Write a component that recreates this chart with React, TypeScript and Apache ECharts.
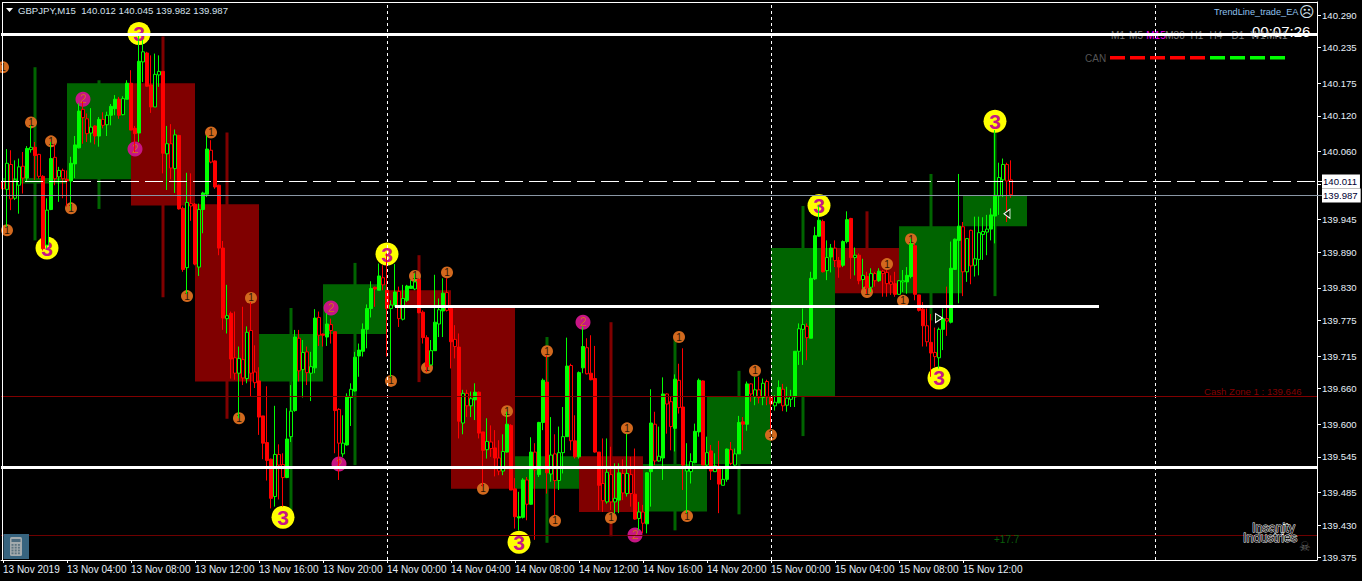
import React, { useEffect, useRef } from "react";
import * as echarts from "echarts";

const FONT = '"Liberation Sans", Arial, sans-serif';

// M15 candles: [open, close, low, high]
const ohlc: number[][] = [
[140.009,139.997,139.955,140.208],[139.996,140.040,139.933,140.064],[140.038,139.980,139.961,140.062],[139.981,140.012,139.978,140.045],
[140.003,140.034,139.955,140.048],[140.035,140.015,139.989,140.059],[140.015,140.065,140.009,140.069],[140.063,140.067,140.058,140.104],
[140.067,140.053,140.012,140.076],[140.055,140.018,140.014,140.056],[140.018,139.896,139.893,140.020],[139.902,139.961,139.896,139.981],
[139.962,140.048,139.961,140.076],[140.050,140.014,140.003,140.073],[140.017,140.028,139.975,140.034],[140.028,140.014,139.981,140.031],
[140.013,140.010,139.967,140.028],[140.010,140.040,139.961,140.051],[140.039,140.071,140.015,140.086],[140.066,140.128,140.065,140.141],
[140.131,140.117,140.073,140.144],[140.115,140.090,140.076,140.124],[140.091,140.101,140.075,140.133],[140.103,140.086,140.072,140.104],
[140.086,140.114,140.068,140.118],[140.114,140.104,140.099,140.126],[140.105,140.121,140.086,140.127],[140.121,140.136,140.104,140.140],
[140.132,140.148,140.121,140.155],[140.148,140.121,140.115,140.152],[140.122,140.149,140.121,140.153],[140.148,140.175,140.148,140.180],
[140.175,140.096,140.096,140.197],[140.099,140.090,140.059,140.103],[140.091,140.212,140.076,140.256],[140.211,140.228,140.177,140.248],
[140.226,140.170,140.169,140.228],[140.172,140.135,140.125,140.222],[140.135,140.190,140.135,140.225],[140.189,140.195,140.169,140.222],
[140.195,140.057,140.023,140.195],[140.056,140.073,139.995,140.103],[140.073,140.032,140.013,140.106],[140.031,140.088,139.990,140.097],
[140.087,139.963,139.962,140.088],[139.964,139.861,139.857,139.967],[139.864,139.974,139.820,140.024],[139.972,139.968,139.943,140.023],
[139.971,139.870,139.868,139.973],[139.865,139.962,139.850,139.972],[139.962,139.990,139.922,139.992],[139.988,140.064,139.983,140.087],
[140.062,140.042,140.040,140.079],[140.044,140.000,139.997,140.045],[140.003,139.897,139.885,140.004],[139.897,139.779,139.759,139.909],
[139.778,139.783,139.753,139.835],[139.787,139.710,139.677,139.790],[139.712,139.686,139.675,139.790],[139.686,139.711,139.610,139.731],
[139.709,139.678,139.666,139.798],[139.677,139.755,139.669,139.765],[139.758,139.686,139.646,139.806],[139.688,139.670,139.661,139.733],
[139.673,139.612,139.582,139.696],[139.614,139.568,139.541,139.614],[139.569,139.539,139.505,139.664],[139.541,139.475,139.458,139.542],
[139.478,139.549,139.461,139.631],[139.549,139.531,139.473,139.566],[139.532,139.510,139.461,139.551],[139.510,139.575,139.509,139.627],
[139.579,139.622,139.570,139.666],[139.623,139.747,139.621,139.759],[139.745,139.690,139.672,139.759],[139.692,139.721,139.645,139.742],
[139.722,139.687,139.666,139.731],[139.686,139.697,139.639,139.722],[139.695,139.779,139.686,139.794],[139.780,139.750,139.732,139.790],
[139.752,139.750,139.731,139.753],[139.747,139.769,139.732,139.787],[139.768,139.758,139.736,139.778],[139.756,139.623,139.551,139.756],
[139.625,139.568,139.506,139.627],[139.550,139.568,139.545,139.615],[139.565,139.647,139.564,139.652],[139.645,139.659,139.597,139.669],
[139.656,139.713,139.655,139.722],[139.715,139.725,139.680,139.736],[139.723,139.760,139.714,139.770],[139.760,139.795,139.728,139.802],
[139.795,139.829,139.780,139.841],[139.831,139.828,139.798,139.832],[139.826,139.850,139.826,139.871],[139.847,139.835,139.826,139.868],
[139.826,139.795,139.714,139.888],[139.795,139.801,139.680,139.809],[139.801,139.823,139.798,139.870],[139.824,139.778,139.764,139.832],
[139.777,139.812,139.775,139.835],[139.809,139.833,139.806,139.835],[139.829,139.833,139.829,139.843],[139.828,139.840,139.826,139.854],
[139.844,139.788,139.787,139.846],[139.789,139.746,139.736,139.792],[139.746,139.697,139.688,139.750],[139.700,139.724,139.700,139.742],
[139.724,139.772,139.724,139.852],[139.769,139.793,139.747,139.812],[139.791,139.821,139.747,139.846],[139.822,139.792,139.790,139.846],
[139.795,139.739,139.694,139.797],[139.743,139.731,139.711,139.767],[139.730,139.605,139.576,139.753],[139.602,139.652,139.583,139.658],
[139.652,139.631,139.612,139.658],[139.631,139.643,139.612,139.655],[139.641,139.654,139.607,139.669],[139.654,139.585,139.576,139.655],
[139.587,139.556,139.495,139.587],[139.557,139.571,139.542,139.610],[139.570,139.559,139.545,139.598],[139.560,139.543,139.512,139.590],
[139.543,139.521,139.514,139.573],[139.521,139.554,139.514,139.583],[139.553,139.600,139.552,139.621],[139.598,139.489,139.489,139.600],
[139.491,139.444,139.424,139.509],[139.442,139.444,139.421,139.486],[139.443,139.506,139.441,139.509],[139.506,139.465,139.438,139.511],
[139.465,139.553,139.464,139.578],[139.553,139.523,139.405,139.568],[139.515,139.603,139.511,139.604],[139.603,139.674,139.590,139.677],
[139.671,139.518,139.483,139.716],[139.516,139.548,139.503,139.612],[139.550,139.505,139.447,139.583],[139.505,139.552,139.489,139.596],
[139.552,139.579,139.517,139.629],[139.579,139.698,139.579,139.746],[139.699,139.572,139.556,139.702],[139.572,139.545,139.542,139.615],
[139.545,139.687,139.542,139.689],[139.695,139.731,139.686,139.764],[139.729,139.685,139.684,139.745],[139.686,139.675,139.674,139.750],
[139.677,139.553,139.552,139.732],[139.553,139.497,139.455,139.553],[139.500,139.471,139.452,139.576],[139.469,139.519,139.466,139.576],
[139.515,139.469,139.455,139.562],[139.469,139.475,139.450,139.534],[139.472,139.518,139.450,139.534],[139.517,139.484,139.472,139.541],
[139.483,139.517,139.478,139.584],[139.515,139.483,139.461,139.545],[139.482,139.440,139.439,139.559],[139.441,139.452,139.421,139.469],
[139.452,139.433,139.416,139.464],[139.432,139.518,139.416,139.519],[139.520,139.602,139.461,139.659],[139.600,139.538,139.531,139.621],
[139.538,139.546,139.537,139.596],[139.543,139.651,139.506,139.679],[139.651,139.634,139.584,139.652],[139.638,139.596,139.556,139.646],
[139.593,139.676,139.554,139.684],[139.674,139.628,139.618,139.702],[139.629,139.531,139.489,139.728],[139.521,139.529,139.450,139.568],
[139.520,139.537,139.500,139.551],[139.535,139.588,139.534,139.601],[139.587,139.674,139.579,139.677],[139.673,139.531,139.531,139.674],
[139.531,139.552,139.529,139.579],[139.555,139.521,139.506,139.565],[139.520,139.530,139.520,139.551],[139.529,139.499,139.450,139.572],
[139.497,139.507,139.497,139.528],[139.507,139.558,139.503,139.559],[139.557,139.534,139.531,139.570],[139.531,139.550,139.529,139.559],
[139.550,139.603,139.550,139.614],[139.604,139.600,139.556,139.612],[139.600,139.668,139.589,139.672],[139.668,139.651,139.638,139.669],
[139.646,139.658,139.632,139.680],[139.658,139.645,139.635,139.680],[139.645,139.669,139.632,139.677],[139.672,139.646,139.632,139.675],
[139.647,139.634,139.591,139.647],[139.631,139.637,139.623,139.649],[139.636,139.662,139.635,139.674],[139.659,139.631,139.622,139.668],
[139.632,139.644,139.621,139.663],[139.642,139.647,139.629,139.658],[139.646,139.723,139.629,139.723],[139.723,139.761,139.700,139.770],
[139.760,139.768,139.700,139.795],[139.765,139.746,139.708,139.770],[139.745,139.846,139.745,139.857],[139.845,139.918,139.843,139.933],
[139.917,139.944,139.916,139.969],[139.942,139.857,139.856,139.945],[139.859,139.881,139.843,139.910],[139.882,139.897,139.856,139.904],
[139.897,139.876,139.865,139.910],[139.876,139.865,139.847,139.882],[139.868,139.908,139.865,139.910],[139.908,139.945,139.905,139.959],
[139.947,139.881,139.845,139.948],[139.881,139.885,139.851,139.898],[139.885,139.842,139.836,139.888],[139.844,139.851,139.829,139.879],
[139.849,139.830,139.820,139.857],[139.831,139.854,139.823,139.863],[139.854,139.842,139.832,139.857],[139.842,139.858,139.840,139.863],
[139.858,139.854,139.815,139.860],[139.856,139.837,139.815,139.860],[139.840,139.836,139.818,139.851],[139.837,139.819,139.815,139.857],
[139.819,139.842,139.818,139.843],[139.840,139.842,139.823,139.860],[139.840,139.851,139.820,139.865],[139.849,139.904,139.846,139.913],
[139.901,139.819,139.809,139.905],[139.818,139.792,139.790,139.818],[139.794,139.766,139.731,139.806],[139.766,139.739,139.731,139.795],
[139.738,139.720,139.680,139.786],[139.721,139.714,139.697,139.763],[139.712,139.760,139.694,139.763],[139.760,139.778,139.725,139.795],
[139.778,139.774,139.749,139.832],[139.772,139.863,139.770,139.908],[139.861,139.912,139.860,139.913],[139.910,139.934,139.804,140.022],
[139.933,139.857,139.816,139.941],[139.857,139.913,139.840,139.913],[139.927,139.867,139.836,139.928],[139.868,139.879,139.849,139.950],
[139.878,139.923,139.851,139.950],[139.920,139.925,139.877,139.949],[139.924,139.929,139.885,139.953],[139.929,139.953,139.910,139.964],
[139.951,139.986,139.905,140.096],[139.985,140.016,139.953,140.041],[140.012,140.038,139.983,140.048],[140.038,140.010,139.941,140.041],
[140.012,139.987,139.982,140.045],
];

// candles the chart draws as outlines only
const hollowCandles = [0,1,2,3,4,5,7,9,11,13,14,15,20,21,22,25,26,30,35,38,39,41,42,43,46,47,49,52,56,58,59,60,61,62,63,68,69,70,72,74,75,76,77,79,82,84,85,87,95,97,99,100,103,107,109,111,113,115,116,117,121,122,124,125,131,133,137,138,139,140,142,146,150,151,152,153,155,156,157,159,160,163,164,166,167,169,171,172,176,178,180,182,183,187,188,189,190,191,193,195,196,197,199,200,201,206,208,213,215,217,218,220,221,222,224,225,231,233,234,236,240,241,242,243,244,245,246,249,250,251,252];

// H4 candles behind the M15 ones: [open, close, low, high]
const h4Candles: number[][] = [
[140.006,140.015,139.910,140.202],[140.013,140.175,139.963,140.180],[140.175,139.969,139.814,140.254],[139.971,139.672,139.609,140.092],
[139.672,139.752,139.455,139.796],[139.752,139.836,139.531,139.872],[139.826,139.799,139.671,139.885],[139.799,139.491,139.491,139.799],
[139.491,139.546,139.400,139.747],[139.546,139.452,139.411,139.772],[139.453,139.533,139.421,139.745],[139.533,139.646,139.448,139.690],
[139.647,139.897,139.580,139.968],[139.897,139.821,139.821,139.959],[139.821,139.934,139.775,140.022],[139.934,139.986,139.816,140.096],
];

const xTickLabels = ["13 Nov 2019","13 Nov 04:00","13 Nov 08:00","13 Nov 12:00","13 Nov 16:00","13 Nov 20:00","14 Nov 00:00","14 Nov 04:00","14 Nov 08:00","14 Nov 12:00","14 Nov 16:00","14 Nov 20:00","15 Nov 00:00","15 Nov 04:00","15 Nov 08:00","15 Nov 12:00"];
const yTicks = [140.29,140.235,140.175,140.12,140.06,140.005,139.945,139.89,139.83,139.775,139.715,139.66,139.6,139.545,139.485,139.43,139.375];

// pattern markers: [candle index, price]
const marks1 = [[0,140.202],[7,140.109],[12,140.077],[17,139.964],[1,139.927],[52,140.092],[46,139.816],[62,139.813],[59,139.610],[103,139.850],[111,139.856],[97,139.673],[106,139.695],[136,139.723],[126,139.622],[120,139.491],[156,139.593],[138,139.437],[152,139.442],[169,139.747],[171,139.445],[188,139.690],[192,139.582],[227,139.912],[221,139.870],[216,139.823],[225,139.808]];
const marks2 = [[20,140.148],[33,140.064],[82,139.796],[84,139.533],[145,139.772],[158,139.413]];
const marks3 = [[11,139.897],[34,140.259],[70,139.443],[96,139.887],[129,139.401],[204,139.969],[234,139.678],[248,140.111]];
const arrowLeft = [[251,139.955]];
const arrowRight = [[234,139.779]];

const topLevel = 140.2572;
const bottomLevel = 139.527;
const midLevel = 139.7987;
const midLevelSpan = [98, 274];
const askLevel = 140.0093;
const bidLevel = 139.9857;
const cashZone = 139.6467;
const lowLevel = 139.4123;
const daySeparators = [96, 192, 288];

const tfLabels = ["M1","M5","M15","M30","H1","H4","D1","W1","MN1"];
const tfX = [1118,1136,1156,1175,1197,1216,1238,1258,1277];
const canColors = ["#ff0000","#ff0000","#ff0000","#ff0000","#ff0000","#00ff00","#00ff00","#00ff00","#00ff00"];

const CATEGORY_COUNT = 329;
const categories = Array.from({ length: CATEGORY_COUNT }, (_, i) =>
  i % 16 === 0 && xTickLabels[i / 16] ? xTickLabels[i / 16] : String(i));
const hasTick = (i: number) => i % 16 === 0 && i / 16 < xTickLabels.length;

const hollowSet = new Set(hollowCandles);

function markSeries(data: number[][], text: string, size: number, bg: string, fg: string, fontSize: number, weight: string) {
  return {
    type: "scatter", data, symbol: "circle", symbolSize: size, z: 3, silent: true, clip: true,
    itemStyle: { color: bg, opacity: 1 },
    label: { show: true, position: "inside", formatter: text, color: fg, fontSize, fontWeight: weight, fontFamily: FONT },
  };
}

function lineOnly(z: number, data: any[], color: string, width: number, type: any) {
  return {
    type: "line", data: [], z, silent: true, symbol: "none",
    markLine: { silent: true, symbol: "none", precision: 4, animation: false, label: { show: false }, lineStyle: { color, width, type }, data },
  };
}

function priceTag(text: string, level: number, color: string, type: any) {
  return {
    type: "line", data: [], z: 3, silent: true, symbol: "none",
    markLine: {
      silent: true, symbol: "none", precision: 4, lineStyle: { color, width: 1, type },
      label: { show: true, position: "end", formatter: text, backgroundColor: "#ffffff", color: "#000033", fontSize: 9.6, fontFamily: FONT, padding: [2, 3, 2, 1], distance: 5 },
      data: [{ yAxis: level }],
    },
  };
}

function txt(x: number, y: number, text: string, fill: string, size: number, extra: any = {}, family = FONT, z = 100) {
  return { type: "text", x, y, z, silent: true, style: { text, fill, font: `${size}px ${family}`, verticalAlign: "middle", ...extra } };
}

function buildGraphics() {
  const els: any[] = [
    { type: "line", z: 100, shape: { x1: 2.5, y1: 2, x2: 2.5, y2: 560 }, style: { stroke: "#fff", lineWidth: 1 } },
    { type: "line", z: 100, shape: { x1: 2, y1: 2.5, x2: 1317, y2: 2.5 }, style: { stroke: "#fff", lineWidth: 1 } },
    { type: "line", z: 1, shape: { x1: 1317, y1: 181.5, x2: 1323, y2: 181.5 }, style: { stroke: "#fff", lineWidth: 1 } },
    { type: "line", z: 1, shape: { x1: 1317, y1: 195.5, x2: 1323, y2: 195.5 }, style: { stroke: "#8a97a5", lineWidth: 1 } },
    { type: "polygon", z: 100, shape: { points: [[6, 8], [13, 8], [9.5, 12]] }, style: { fill: "#fff" } },
    txt(18, 10.5, "GBPJPY,M15  140.012 140.045 139.982 139.987", "#d4e0ec", 9.6),
    txt(1214, 12, "TrendLine_trade_EA", "#8fc0ee", 9.2),
    txt(1299, 12, "\u2639", "#d4e0ec", 15, {}, '"DejaVu Sans"'),
    txt(1252, 31, "00:07:26", "#ffffff", 15, {}, FONT, 1),
    txt(1085, 58, "CAN", "#555555", 10),
    txt(1204, 391, "Cash Zone 1 : 139.646", "#800000", 9.6),
    txt(994, 539, "+17.7", "#0b5f0b", 10),
    txt(1252, 528, "Insanity", "#111111", 12.5, { stroke: "#ffffff", lineWidth: 0.9 }),
    txt(1243, 538, "Industries", "#111111", 12.5, { stroke: "#ffffff", lineWidth: 0.9 }),
    txt(1299, 546, "\u2620", "#666666", 13, {}, '"DejaVu Sans"'),
    { type: "rect", z: 100, shape: { x: 3.5, y: 534, width: 25.5, height: 25 }, style: { fill: "#37647f" } },
    { type: "rect", z: 101, shape: { x: 10, y: 537, width: 12, height: 19, r: 1.5 }, style: { fill: "#a3abae" } },
    { type: "rect", z: 102, shape: { x: 11.5, y: 539, width: 9, height: 3 }, style: { fill: "#4d6c7f" } },
  ];
  for (let r = 0; r < 4; r++) {
    for (let c = 0; c < 3; c++) {
      els.push({ type: "rect", z: 102, shape: { x: 11.5 + c * 3.2, y: 544 + r * 2.8, width: 2, height: 1.8 }, style: { fill: "#5d7480" } });
    }
  }
  tfLabels.forEach((t, i) => {
    els.push({ type: "text", x: tfX[i], y: 35.5, z: 1, silent: true, style: { text: t, fill: t === "M15" ? "#ff00ff" : "#808080", font: `10px ${FONT}`, align: "center", verticalAlign: "middle" } });
  });
  canColors.forEach((color, i) => {
    els.push({ type: "rect", z: 100, shape: { x: 1110 + i * 20, y: 56, width: 15, height: 3.5 }, style: { fill: color } });
  });
  return els;
}

export default function App() {
  const ref = useRef<HTMLDivElement>(null);
  useEffect(() => {
    document.body.style.margin = "0";
    document.body.style.background = "#000";
    const chart = echarts.init(ref.current!, undefined, { renderer: "svg" });
    chart.setOption({
      animation: false,
      backgroundColor: "#000000",
      grid: { left: 1, right: 45, top: 2, bottom: 21 },
      xAxis: {
        type: "category", data: categories, boundaryGap: true,
        axisLine: { lineStyle: { color: "#fff", width: 1 } },
        axisTick: { show: true, alignWithLabel: true, length: 3, interval: (i: number) => hasTick(i), lineStyle: { color: "#fff" } },
        axisLabel: {
          show: true, interval: (i: number) => hasTick(i), align: "left", margin: 4, color: "#e6eff8", fontSize: 10, fontFamily: FONT,
          hideOverlap: false, formatter: (v: string) => v,
        },
        splitLine: { show: false },
      },
      yAxis: {
        type: "value", position: "right", scale: true, min: 139.371, max: 140.312,
        axisLine: { show: true, lineStyle: { color: "#fff", width: 1 } },
        axisTick: { show: true, length: 4, lineStyle: { color: "#fff" }, customValues: yTicks },
        axisLabel: {
          show: true, color: "#e6eff8", fontSize: 9.6, fontFamily: FONT, margin: 5, customValues: yTicks, showMinLabel: true, showMaxLabel: true,
          formatter: (v: number) => v.toFixed(3),
        },
        splitLine: { show: false },
      },
      graphic: { elements: buildGraphics() },
      series: [
        {
          type: "custom", z: 1, silent: true, clip: false,
          data: h4Candles.map((c, k) => [k * 16, (k + 1) * 16, c[0], c[1], c[2], c[3]]),
          encode: { x: [0, 1], y: [2, 3, 4, 5] },
          renderItem: (_: any, api: any) => {
            const s = api.value(0), e = api.value(1), o = api.value(2), c = api.value(3), l = api.value(4), h = api.value(5);
            const color = c >= o ? "#006400" : "#800000";
            const tl = api.coord([s, Math.max(o, c)]);
            const br = api.coord([e, Math.min(o, c)]);
            const wt = api.coord([(s + e) / 2, h]);
            const wb = api.coord([(s + e) / 2, l]);
            return {
              type: "group",
              children: [
                { type: "rect", shape: { x: wt[0] - 1.5, y: wt[1], width: 3, height: wb[1] - wt[1] }, style: { fill: color } },
                { type: "rect", shape: { x: tl[0], y: tl[1], width: br[0] - tl[0], height: br[1] - tl[1] }, style: { fill: color } },
              ],
            };
          },
        },
        lineOnly(2, daySeparators.map((x) => ({ xAxis: x })), "#ffffff", 1, [3, 3]),
        lineOnly(2, [{ yAxis: cashZone }], "#800000", 1, "solid"),
        lineOnly(2, [{ yAxis: lowLevel }], "#6e0000", 1, "solid"),
        markSeries(marks1, "1", 12, "#d2691e", "#2a1405", 10, "normal"),
        markSeries(marks2, "2", 15, "#c71585", "#d2691e", 12, "normal"),
        markSeries(marks3, "3", 23, "#ffff00", "#c71585", 21, "bold"),
        priceTag("140.011", askLevel, "#ffffff", [18, 6]),
        priceTag("139.987", bidLevel, "#8a97a5", "solid"),
        {
          type: "candlestick", z: 4, silent: true, barWidth: 3,
          data: ohlc.map((v, i) => hollowSet.has(i)
            ? { value: v, itemStyle: { color: "#000000", color0: "#000000" } }
            : { value: v }),
          itemStyle: { color: "#00ff00", color0: "#ff0000", borderColor: "#00ff00", borderColor0: "#ff0000", borderWidth: 1 },
        },
        { type: "scatter", z: 5, silent: true, symbol: "triangle", symbolSize: [9, 6], symbolRotate: 90, data: arrowLeft, itemStyle: { color: "#063306", borderColor: "#fff", borderWidth: 1, opacity: 1 } },
        { type: "scatter", z: 5, silent: true, symbol: "triangle", symbolSize: [9, 7], symbolRotate: -90, data: arrowRight, itemStyle: { color: "#063306", borderColor: "#fff", borderWidth: 1, opacity: 1 } },
        lineOnly(6, [{ yAxis: topLevel }, { yAxis: bottomLevel }], "#ffffff", 3, "solid"),
        {
          type: "line", z: 6, silent: true, symbol: "none", lineStyle: { color: "#ffffff", width: 3 },
          data: midLevelSpan.map((x) => [x, midLevel]),
        },
      ],
    });
    return () => chart.dispose();
  }, []);
  return <div ref={ref} style={{ width: 1362, height: 581 }} />;
}
